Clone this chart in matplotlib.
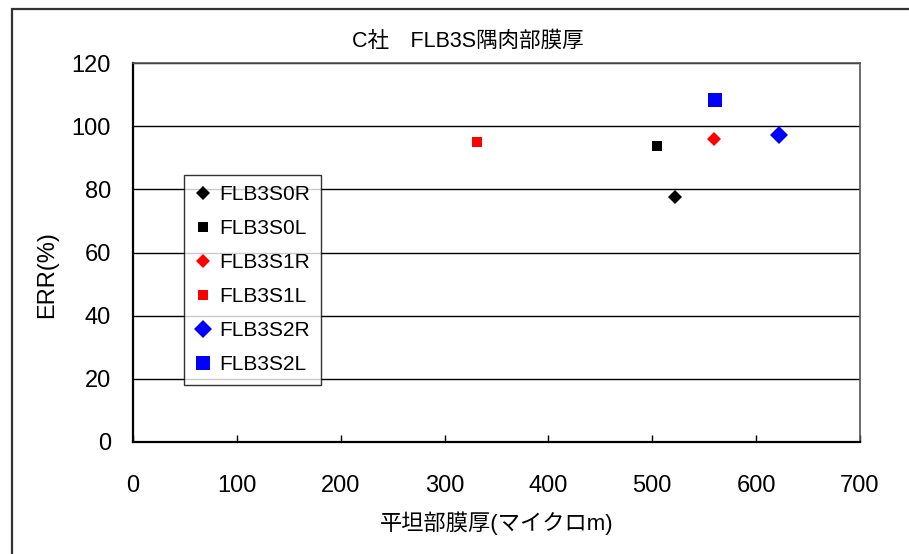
import matplotlib
matplotlib.use("Agg")
import matplotlib.pyplot as plt
from matplotlib.patches import Rectangle

# 試料ごとの平坦部膜厚(μm)とERR(%)
series = ["FLB3S0R", "FLB3S0L", "FLB3S1R", "FLB3S1L", "FLB3S2R", "FLB3S2L"]
thickness = [522, 505, 559, 331, 622, 560]
err = [77.5, 93.7, 95.9, 94.9, 97.2, 108.2]

colors = ["black", "black", "red", "red", "blue", "blue"]
markers = ["D", "s", "D", "s", "D", "s"]
sizes = [7.0, 7.2, 7.0, 7.6, 9.0, 10.5]

xticks = [0, 100, 200, 300, 400, 500, 600, 700]
yticks = [0, 20, 40, 60, 80, 100, 120]

FONT = ["Liberation Sans", "Noto Sans CJK JP"]
plt.rcParams["font.family"] = FONT

W, H = 909, 554
fig = plt.figure(figsize=(W / 100, H / 100), dpi=100)

# 外枠(右端と下端は切れている)
fig.patches.append(Rectangle((12 / W, -0.1), 1.2, 1 - 9 / H + 0.1,
                             transform=fig.transFigure, fill=False,
                             edgecolor="#333333", linewidth=1.6))

ax = fig.add_axes([133 / W, 1 - 442 / H, (860 - 133) / W, (442 - 63) / H])

for name, x, y, c, m, s in zip(series, thickness, err, colors, markers, sizes):
    ax.plot([x], [y], linestyle="none", marker=m, markersize=s, color=c,
            markeredgewidth=0, label=name)

ax.set_xlim(0, 700)
ax.set_ylim(0, 120)
ax.set_xticks(xticks)
ax.set_yticks(yticks)
ax.tick_params(axis="x", direction="in", length=5, width=1, pad=24, labelsize=17)
ax.tick_params(axis="y", length=0, pad=16, labelsize=17)
ax.yaxis.grid(True, color="black", linewidth=1)
ax.set_axisbelow(True)

ax.spines["left"].set_linewidth(1.6)
ax.spines["bottom"].set_linewidth(1.6)
for side in ("top", "right"):
    ax.spines[side].set_color("#555555")
    ax.spines[side].set_linewidth(1.2)

ax.set_xlabel("平坦部膜厚(マイクロm)", fontsize=16, labelpad=10)
ax.set_ylabel("ERR(%)", fontsize=17)
ax.yaxis.set_label_coords(-0.103, 0.443)
fig.text(468 / W, 1 - 41 / H, "C社\u3000FLB3S隅肉部膜厚", ha="center", va="center",
         fontsize=15.5)

leg = ax.legend(loc="upper left", bbox_to_anchor=(184 / W, 1 - 175 / H),
                bbox_transform=fig.transFigure, fontsize=15, frameon=True,
                fancybox=False, shadow=False, borderpad=0.5, labelspacing=0.72,
                handlelength=0.8, handletextpad=0.4, borderaxespad=0,
                markerscale=1.0)
leg.get_frame().set_edgecolor("black")
leg.get_frame().set_linewidth(1)

fig.savefig("out.png", dpi=100)
